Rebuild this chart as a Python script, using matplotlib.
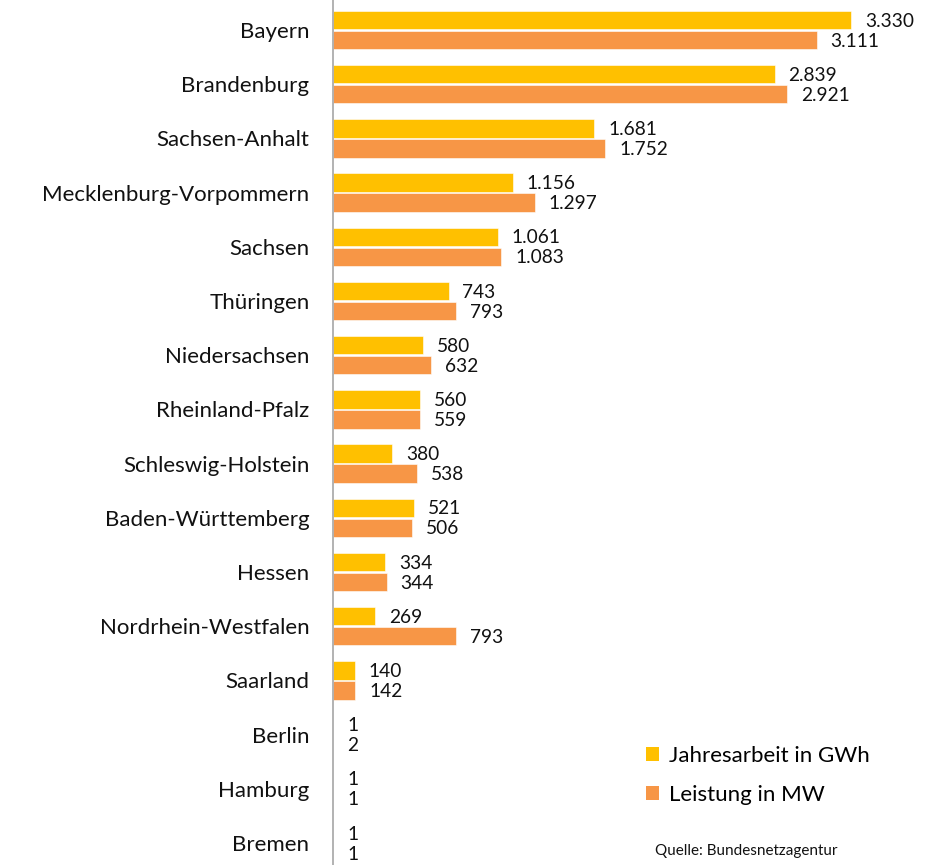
import matplotlib
matplotlib.use("Agg")
import matplotlib.pyplot as plt
from matplotlib.patches import Patch
import numpy as np

plt.rcParams['font.family'] = ['Lato', 'DejaVu Sans']

states = ["Bayern", "Brandenburg", "Sachsen-Anhalt", "Mecklenburg-Vorpommern", "Sachsen",
          "Thüringen", "Niedersachsen", "Rheinland-Pfalz", "Schleswig-Holstein",
          "Baden-Württemberg", "Hessen", "Nordrhein-Westfalen", "Saarland", "Berlin",
          "Hamburg", "Bremen"]
jahresarbeit_gwh = [3330, 2839, 1681, 1156, 1061, 743, 580, 560, 380, 521, 334, 269, 140, 1, 1, 1]
leistung_mw = [3111, 2921, 1752, 1297, 1083, 793, 632, 559, 538, 506, 344, 793, 142, 2, 1, 1]

c_y = "#FFC000"
c_o = "#F79646"

fig = plt.figure(figsize=(9.33, 8.65), dpi=100)
ax = fig.add_axes([333/933, 0, (924-333)/933, 1])

y = np.arange(len(states))
h = 0.34
off = 0.185
ax.barh(y - off, jahresarbeit_gwh, height=h, color=c_y, edgecolor="white", linewidth=0.4)
ax.barh(y + off, leistung_mw, height=h, color=c_o, edgecolor="white", linewidth=0.4)

def fmt(v):
    return f"{v:,}".replace(",", ".")

for i in range(len(states)):
    ax.annotate(fmt(jahresarbeit_gwh[i]), (jahresarbeit_gwh[i], y[i] - off + 0.02),
                xytext=(10, 0), textcoords="offset points", ha="left", va="center",
                fontsize=13.8, color="#111111")
    ax.annotate(fmt(leistung_mw[i]), (leistung_mw[i], y[i] + off + 0.02),
                xytext=(10, 0), textcoords="offset points", ha="left", va="center",
                fontsize=13.8, color="#111111")

ax.set_xlim(0, 3800)
ax.set_ylim((865 - 30) / 54.2, -30 / 54.2)
ax.set_yticks(y)
ax.set_yticklabels(states, fontsize=16, color="#111111")
ax.tick_params(axis="y", length=0, pad=17)
ax.set_xticks([])
for s in ["top", "right", "bottom"]:
    ax.spines[s].set_visible(False)
ax.spines["left"].set_color("#A6A6A6")
ax.spines["left"].set_linewidth(1.2)

handles = [Patch(facecolor=c_y, label="Jahresarbeit in GWh"),
           Patch(facecolor=c_o, label="Leistung in MW")]
fig.legend(handles=handles, loc="upper left", bbox_to_anchor=(626/933, 1 - 726/865),
           frameon=False, fontsize=16, handlelength=0.6, handleheight=0.6,
           handletextpad=0.45, labelspacing=0.85)

fig.text(655/933, 1 - 851/865, "Quelle: Bundesnetzagentur", fontsize=11, va="center",
         ha="left", color="#111111")

fig.savefig("out.png", dpi=100)
